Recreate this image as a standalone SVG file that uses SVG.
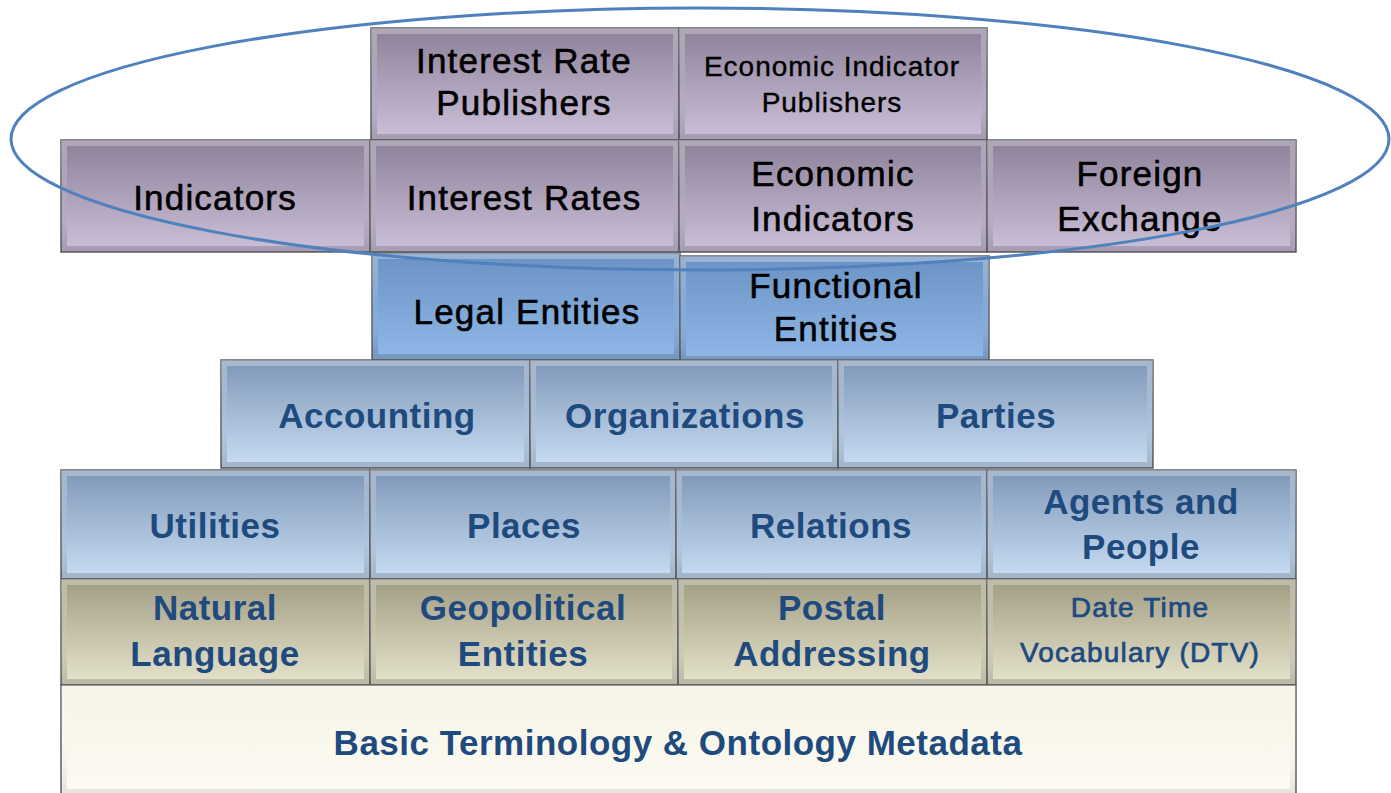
<svg xmlns="http://www.w3.org/2000/svg" width="1391" height="793" viewBox="0 0 1391 793">
<defs>
<linearGradient id="gP" x1="0" y1="0" x2="0" y2="1"><stop offset="0" stop-color="#8c8198"/><stop offset="1" stop-color="#cdc1da"/></linearGradient>
<linearGradient id="gB" x1="0" y1="0" x2="0" y2="1"><stop offset="0" stop-color="#7f97b8"/><stop offset="1" stop-color="#c9def4"/></linearGradient>
<linearGradient id="gL" x1="0" y1="0" x2="0" y2="1"><stop offset="0" stop-color="#6a92c2"/><stop offset="1" stop-color="#90b9e9"/></linearGradient>
<linearGradient id="gT" x1="0" y1="0" x2="0" y2="1"><stop offset="0" stop-color="#a19d83"/><stop offset="1" stop-color="#e7e4cd"/></linearGradient>
<linearGradient id="gC" x1="0" y1="0" x2="0" y2="1"><stop offset="0" stop-color="#f6f4e6"/><stop offset="1" stop-color="#fcfbf3"/></linearGradient>
<linearGradient id="bev" x1="0" y1="0" x2="0" y2="1"><stop offset="0" stop-color="#ffffff" stop-opacity="0.3"/><stop offset="0.5" stop-color="#ffffff" stop-opacity="0.05"/><stop offset="1" stop-color="#000000" stop-opacity="0.18"/></linearGradient>
</defs>
<style>
.o{stroke:#5f5f66;stroke-width:1.5}
.b{fill:none;stroke:url(#bev);stroke-width:6}
.k{font-family:"Liberation Sans",Arial,sans-serif;font-size:35px;letter-spacing:1.2px;fill:#000;stroke:#000;stroke-width:0.6px;text-anchor:middle}
.ks{font-size:28px;letter-spacing:1px;stroke-width:0.4px}
.t{font-family:"Liberation Sans",Arial,sans-serif;font-size:35px;letter-spacing:0.5px;font-weight:bold;fill:#1f4a7e;text-anchor:middle}
.ts{font-size:28px;letter-spacing:1.2px;font-weight:normal;stroke:#1f4a7e;stroke-width:0.7px}
</style>
<rect width="1391" height="793" fill="#ffffff"/>

<g id="n-irp"><rect class="o" x="371" y="28" width="308" height="112" fill="url(#gP)"/><rect class="b" x="374" y="31" width="302" height="106"/><text class="k" x="524" y="73">Interest Rate</text><text class="k" x="524" y="115">Publishers</text></g>
<g id="n-eip"><rect class="o" x="679" y="28" width="308" height="112" fill="url(#gP)"/><rect class="b" x="682" y="31" width="302" height="106"/><text class="k ks" x="832" y="76">Economic Indicator</text><text class="k ks" x="832" y="112">Publishers</text></g>

<g id="n-ind"><rect class="o" x="61" y="140" width="309" height="112" fill="url(#gP)"/><rect class="b" x="64" y="143" width="303" height="106"/><text class="k" x="215" y="210">Indicators</text></g>
<g id="n-ir"><rect class="o" x="370" y="140" width="309" height="112" fill="url(#gP)"/><rect class="b" x="373" y="143" width="303" height="106"/><text class="k" x="524" y="210">Interest Rates</text></g>
<g id="n-ei"><rect class="o" x="679" y="140" width="308" height="112" fill="url(#gP)"/><rect class="b" x="682" y="143" width="302" height="106"/><text class="k" x="833" y="186">Economic</text><text class="k" x="833" y="231">Indicators</text></g>
<g id="n-fx"><rect class="o" x="987" y="140" width="309" height="112" fill="url(#gP)"/><rect class="b" x="990" y="143" width="303" height="106"/><text class="k" x="1140" y="186">Foreign</text><text class="k" x="1140" y="231">Exchange</text></g>

<g id="n-le"><rect class="o" x="372" y="253" width="308" height="107" fill="url(#gL)"/><rect class="b" x="375" y="256" width="302" height="101"/><text class="k" x="527" y="324">Legal Entities</text></g>
<g id="n-fe"><rect class="o" x="680" y="256" width="309" height="106" fill="url(#gL)"/><rect class="b" x="683" y="259" width="303" height="100"/><text class="k" x="836" y="298">Functional</text><text class="k" x="836" y="341">Entities</text></g>

<g id="n-acc"><rect class="o" x="221" y="360" width="309" height="108" fill="url(#gB)"/><rect class="b" x="224" y="363" width="303" height="102"/><text class="t" x="377" y="428">Accounting</text></g>
<g id="n-org"><rect class="o" x="530" y="360" width="308" height="108" fill="url(#gB)"/><rect class="b" x="533" y="363" width="302" height="102"/><text class="t" x="685" y="428">Organizations</text></g>
<g id="n-par"><rect class="o" x="838" y="360" width="315" height="108" fill="url(#gB)"/><rect class="b" x="841" y="363" width="309" height="102"/><text class="t" x="996" y="428">Parties</text></g>

<g id="n-uti"><rect class="o" x="61" y="470" width="309" height="109" fill="url(#gB)"/><rect class="b" x="64" y="473" width="303" height="103"/><text class="t" x="215" y="538">Utilities</text></g>
<g id="n-pla"><rect class="o" x="370" y="470" width="306" height="109" fill="url(#gB)"/><rect class="b" x="373" y="473" width="300" height="103"/><text class="t" x="524" y="538">Places</text></g>
<g id="n-rel"><rect class="o" x="676" y="470" width="311" height="109" fill="url(#gB)"/><rect class="b" x="679" y="473" width="305" height="103"/><text class="t" x="831" y="538">Relations</text></g>
<g id="n-agp"><rect class="o" x="987" y="470" width="309" height="109" fill="url(#gB)"/><rect class="b" x="990" y="473" width="303" height="103"/><text class="t" x="1141" y="514">Agents and</text><text class="t" x="1141" y="559">People</text></g>

<g id="n-nl"><rect class="o" x="61" y="579" width="309" height="106" fill="url(#gT)"/><rect class="b" x="64" y="582" width="303" height="100"/><text class="t" x="215" y="620">Natural</text><text class="t" x="215" y="666">Language</text></g>
<g id="n-geo"><rect class="o" x="370" y="579" width="308" height="106" fill="url(#gT)"/><rect class="b" x="373" y="582" width="302" height="100"/><text class="t" x="523" y="620">Geopolitical</text><text class="t" x="523" y="666">Entities</text></g>
<g id="n-pos"><rect class="o" x="678" y="579" width="309" height="106" fill="url(#gT)"/><rect class="b" x="681" y="582" width="303" height="100"/><text class="t" x="832" y="620">Postal</text><text class="t" x="832" y="666">Addressing</text></g>
<g id="n-dtv"><rect class="o" x="987" y="579" width="309" height="106" fill="url(#gT)"/><rect class="b" x="990" y="582" width="303" height="100"/><text class="t ts" x="1140" y="617">Date Time</text><text class="t ts" x="1140" y="662">Vocabulary (DTV)</text></g>

<g id="n-basic"><rect class="o" x="61" y="685" width="1235" height="110" fill="url(#gC)"/><rect class="b" x="64" y="688" width="1229" height="104" opacity="0.5"/><text class="t" x="678" y="755">Basic Terminology &amp; Ontology Metadata</text></g>

<g id="connectors"><ellipse cx="700" cy="139" rx="689" ry="131" fill="none" stroke="#4f81bd" stroke-width="3"/></g>
</svg>
